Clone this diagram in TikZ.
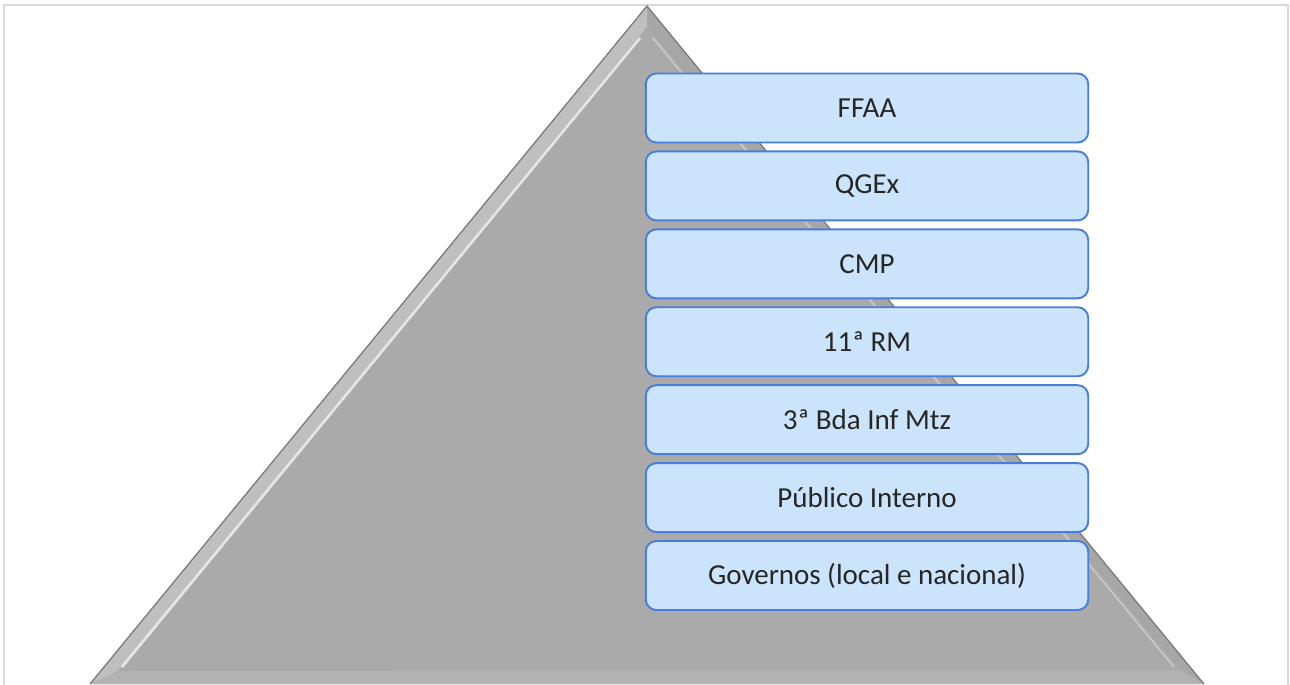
\documentclass[tikz,border=0pt]{standalone}
\usepackage{fontspec}
\setmainfont{Carlito}
\usetikzlibrary{positioning}
\definecolor{tierfill}{RGB}{204,228,251}
\definecolor{tierline}{RGB}{74,125,214}
\definecolor{framegray}{RGB}{217,217,217}
\definecolor{pyrface}{RGB}{170,170,170}
\definecolor{pyrbevel}{RGB}{190,190,190}
\definecolor{pyredge}{RGB}{120,120,120}
\tikzset{
  tier/.style={draw=tierline, line width=1.1pt, fill=tierfill, rounded corners=6pt,
    minimum width=8.85cm, minimum height=1.38cm, text=black!85,
    font=\fontsize{16.5}{20}\selectfont},
}

\begin{document}
\begin{tikzpicture}[x=0.02cm,y=0.02cm]
\useasboundingbox (0,0) rectangle (1290,684);
% frame
\draw[framegray,line width=1.2pt] (4,-10)--(4,679)--(1288,679)--(1288,-10);

% pyramid with bevel
\fill[pyrbevel] (90,0)--(647,678)--(1204,0)--cycle;
\fill[black!35] (647,678)--(1204,0)--(1180,14)--(647,657)--cycle;
\fill[black!25] (90,0)--(647,678)--(647,657)--(118,13)--cycle;
\fill[black!30] (90,0)--(118,13)--(1180,14)--(1204,0)--cycle;
\fill[pyrface] (118,13)--(647,657)--(1180,14)--cycle;
\draw[white,opacity=0.7,line width=1.5pt] (122,17)--(640,646);
\draw[white,opacity=0.35,line width=1pt] (653,646)--(1174,17);
\draw[pyredge,line width=0.7pt] (90,0)--(647,678)--(1204,0);

% tiers
\node[tier] (ffaa) at (867,576) {FFAA};
\node[tier,below=0.14cm of ffaa] (qgex) {QGEx};
\node[tier,below=0.14cm of qgex] (cmp) {CMP};
\node[tier,below=0.14cm of cmp] (rm) {11ª RM};
\node[tier,below=0.14cm of rm] (bda) {3ª Bda Inf Mtz};
\node[tier,below=0.14cm of bda] (pub) {Público Interno};
\node[tier,below=0.14cm of pub] (gov) {Governos (local e nacional)};
\end{tikzpicture}
\end{document}
